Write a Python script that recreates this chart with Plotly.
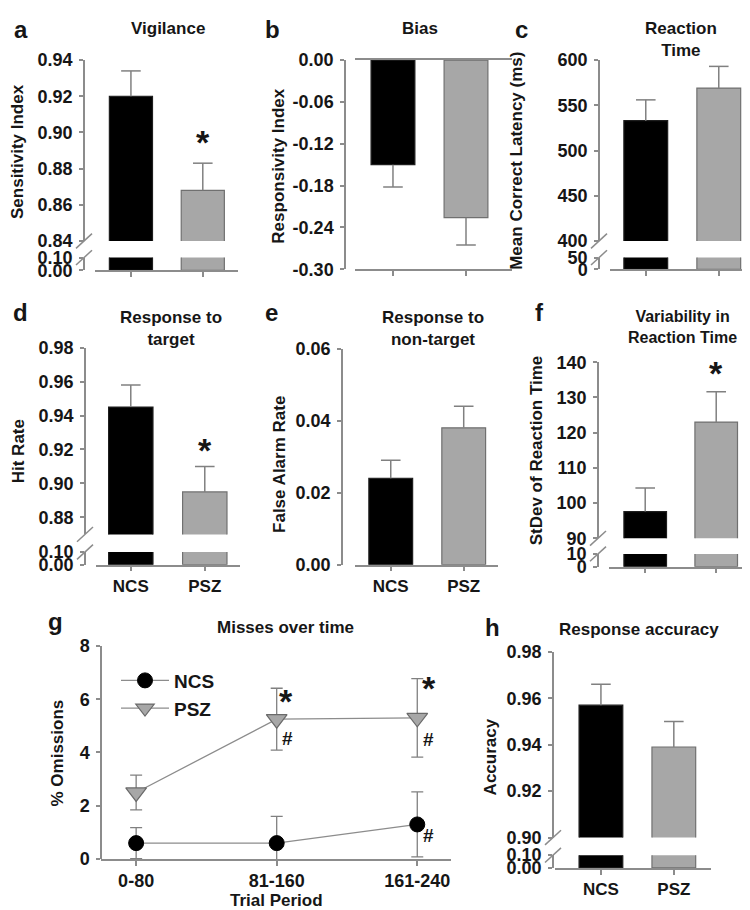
import plotly.graph_objects as go

W, H = 750, 910

# ---------------- data ----------------
groups = ["NCS", "PSZ"]
vigilance_mean = [0.920, 0.868]
vigilance_sem = [0.014, 0.015]
bias_mean = [-0.150, -0.226]
bias_sem = [0.032, 0.039]
rt_mean = [533, 569]
rt_sem = [23, 24]
hit_mean = [0.945, 0.895]
hit_sem = [0.013, 0.015]
fa_mean = [0.024, 0.038]
fa_sem = [0.005, 0.006]
rtsd_mean = [97.6, 123.0]
rtsd_sem = [6.7, 8.6]
acc_mean = [0.957, 0.939]
acc_sem = [0.009, 0.011]
trial_periods = ["0-80", "81-160", "161-240"]
omis_ncs = [0.6, 0.6, 1.3]
omis_ncs_sem = [0.58, 1.0, 1.22]
omis_psz = [2.5, 5.25, 5.3]
omis_psz_sem = [0.65, 1.16, 1.47]

# tick values
vig_ticks = [0.84, 0.86, 0.88, 0.90, 0.92, 0.94]
bias_ticks = [0.00, -0.06, -0.12, -0.18, -0.24, -0.30]
rt_ticks = [400, 450, 500, 550, 600]
hit_ticks = [0.88, 0.90, 0.92, 0.94, 0.96, 0.98]
fa_ticks = [0.00, 0.02, 0.04, 0.06]
rtsd_ticks = [90, 100, 110, 120, 130, 140]
acc_ticks = [0.90, 0.92, 0.94, 0.96, 0.98]
omis_ticks = [0, 2, 4, 6, 8]
low_ticks_frac = [0.00, 0.10]
low_ticks_rt = [0, 50]
low_ticks_sd = [0, 10]

# ---------------- style ----------------
FONT = "Liberation Sans, Arial, Helvetica, sans-serif"
TXT = "#161616"
AXC = "#8c8c8c"
ERRC = "#808080"
FILL = ["#000000", "#a7a7a7"]
EDGE = ["#1e1e1e", "#707070"]
YTICKSZ = 18
XTICKSZ = 17
STAR = 34

fig = go.Figure()
layout = dict(width=W, height=H, margin=dict(l=0, r=0, t=0, b=0),
              paper_bgcolor="white", plot_bgcolor="rgba(0,0,0,0)",
              annotations=[], shapes=[])


def X(p):
    return p / W


def Y(p):
    return 1 - p / H


def bold(size):
    return dict(family=FONT, size=size, color=TXT, weight="bold")


counter = [0]


def axis_pair(xdom, ydom, xrange, yrange, ypos, yticks, yfmt,
              show_x=True, xticktext=None, mirror=False, nx=2, xtsize=XTICKSZ):
    counter[0] += 1
    n = counter[0]
    sfx = "" if n == 1 else str(n)
    xid, yid = "x" + sfx, "y" + sfx
    layout["xaxis" + sfx] = dict(
        domain=[X(xdom[0]), X(xdom[1])], range=xrange, anchor=yid,
        showline=show_x, linecolor=AXC, linewidth=1.5, mirror=mirror,
        ticks="outside" if show_x else "", ticklen=5, tickwidth=1.5, tickcolor=AXC,
        tickvals=list(range(nx)) if show_x else [],
        ticktext=xticktext if xticktext else [""] * nx,
        showticklabels=bool(show_x and xticktext),
        tickfont=bold(xtsize),
        showgrid=False, zeroline=False, fixedrange=True)
    layout["yaxis" + sfx] = dict(
        domain=[Y(ydom[1]), Y(ydom[0])], range=yrange, anchor="free", position=X(ypos),
        showline=True, linecolor=AXC, linewidth=1.5,
        ticks="outside", ticklen=4, tickwidth=1.5, tickcolor=AXC,
        tickvals=yticks, ticktext=[yfmt.format(v) for v in yticks],
        tickfont=bold(YTICKSZ), ticklabelstandoff=3,
        showgrid=False, zeroline=False, fixedrange=True)
    return xid, yid


def bars(means, xid, yid):
    fig.add_bar(x=[0, 1], y=means, width=0.6,
                marker=dict(color=FILL, line=dict(color=EDGE, width=1.2)),
                xaxis=xid, yaxis=yid, showlegend=False, hoverinfo="skip")


def whiskers(means, sems, xid, yid, sign=1):
    wx, wy, cx, cy = [], [], [], []
    for i, (m, s) in enumerate(zip(means, sems)):
        wx += [i, i, None]
        wy += [m, m + sign * s, None]
        cx.append(i)
        cy.append(m + sign * s)
    fig.add_scatter(x=wx, y=wy, mode="lines", line=dict(color=ERRC, width=1.5),
                    xaxis=xid, yaxis=yid, showlegend=False, hoverinfo="skip")
    fig.add_scatter(x=cx, y=cy, mode="markers",
                    marker=dict(symbol="line-ew", size=14, line=dict(color=ERRC, width=1.5)),
                    xaxis=xid, yaxis=yid, showlegend=False, hoverinfo="skip")


def break_marks(ypos, yc_up, yc_lo):
    for yc in (yc_up, yc_lo):
        layout["shapes"].append(dict(type="line", xref="paper", yref="paper",
                                     x0=X(ypos - 8), y0=Y(yc + 7.5), x1=X(ypos + 8), y1=Y(yc - 7.5),
                                     line=dict(color=AXC, width=1.5)))


def text(x, y, t, size, xanchor="center", angle=0):
    layout["annotations"].append(dict(x=X(x), y=Y(y), xref="paper", yref="paper", text=t,
                                      showarrow=False, font=bold(size), xanchor=xanchor,
                                      yanchor="middle", textangle=angle))


def mark(t, xid, yid, x, y, size, xshift=0, yshift=0):
    layout["annotations"].append(dict(x=x, y=y, xref=xid, yref=yid, text=t, showarrow=False,
                                      font=bold(size), xanchor="center", yanchor="middle",
                                      xshift=xshift, yshift=yshift))


def broken_panel(means, sems, xdom, xrange, ypos, up_dom, up_range, up_ticks, lo_dom, lo_range,
                 lo_ticks, fmt, xticktext=None):
    xu, yu = axis_pair(xdom, up_dom, xrange, up_range, ypos, up_ticks, fmt, show_x=False)
    xl, yl = axis_pair(xdom, lo_dom, xrange, lo_range, ypos, lo_ticks, fmt, show_x=True,
                       xticktext=xticktext)
    bars(means, xu, yu)
    bars(means, xl, yl)
    whiskers(means, sems, xu, yu)
    break_marks(ypos, up_dom[1], lo_dom[0])
    return xu, yu


# ---------------- panel a ----------------
xa, ya = broken_panel(vigilance_mean, vigilance_sem, [87, 230], [-0.5, 1.49], 76,
                      [43, 228], [0.84, 0.94], vig_ticks, [245, 258], [0, 0.1], low_ticks_frac,
                      "{:.2f}")
mark("*", xa, ya, 1, vigilance_mean[1] + vigilance_sem[1], STAR, yshift=21)

# ---------------- panel b ----------------
xb, yb = axis_pair([347, 504], [43, 257], [-0.52, 1.63], [-0.30, 0.0], 337, bias_ticks, "{:.2f}",
                   show_x=True, mirror=True)
bars(bias_mean, xb, yb)
whiskers(bias_mean, bias_sem, xb, yb, sign=-1)

# ---------------- panel c ----------------
broken_panel(rt_mean, rt_sem, [602, 748], [-0.49, 1.51], 591,
             [43, 228], [400, 600], rt_ticks, [245, 257], [0, 50], low_ticks_rt, "{:g}")

# ---------------- panel d ----------------
xd, yd = broken_panel(hit_mean, hit_sem, [88, 232], [-0.47, 1.476], 77,
                      [337, 528], [0.87, 0.98], hit_ticks, [546, 559], [0, 0.1], low_ticks_frac,
                      "{:.2f}", xticktext=groups)
mark("*", xd, yd, 1, hit_mean[1] + hit_sem[1], STAR, yshift=16)

# ---------------- panel e ----------------
xe, ye = axis_pair([347, 490], [338, 559], [-0.49, 1.47], [0, 0.06], 334, fa_ticks, "{:.2f}",
                   show_x=True, xticktext=groups)
bars(fa_mean, xe, ye)
whiskers(fa_mean, fa_sem, xe, ye)

# ---------------- panel f ----------------
xf, yf = broken_panel(rtsd_mean, rtsd_sem, [601, 743], [-0.51, 1.49], 590,
                      [352, 532], [90, 140], rtsd_ticks, [548, 561], [0, 10], low_ticks_sd, "{:g}")
mark("*", xf, yf, 1, rtsd_mean[1] + rtsd_sem[1], STAR, yshift=19)

# ---------------- panel g ----------------
xg, yg = axis_pair([93, 443], [642, 860], [-0.25, 2.24], [0, 8], 93, omis_ticks, "{:g}",
                   show_x=True, xticktext=trial_periods, nx=3, xtsize=18)
fig.add_scatter(x=[0, 1, 2], y=omis_ncs, name="NCS", mode="lines+markers",
                error_y=dict(type="data", array=omis_ncs_sem, color=ERRC, thickness=1.3, width=6),
                line=dict(color="#8c8c8c", width=1.3),
                marker=dict(symbol="circle", size=15, color="#000000", line=dict(color="#000000", width=1)),
                xaxis=xg, yaxis=yg, hoverinfo="skip")
fig.add_scatter(x=[0, 1, 2], y=omis_psz, name="PSZ", mode="lines+markers",
                error_y=dict(type="data", array=omis_psz_sem, color=ERRC, thickness=1.3, width=6),
                line=dict(color="#8c8c8c", width=1.3),
                marker=dict(symbol="triangle-down", size=18, color="#a7a7a7",
                            line=dict(color="#6a6a6a", width=1.2)),
                xaxis=xg, yaxis=yg, hoverinfo="skip")
mark("*", xg, yg, 1, omis_psz[1], STAR, xshift=9, yshift=18)
mark("#", xg, yg, 1, omis_psz[1], 19, xshift=11, yshift=-19)
mark("*", xg, yg, 2, omis_psz[2], STAR, xshift=12, yshift=30)
mark("#", xg, yg, 2, omis_psz[2], 19, xshift=11, yshift=-22)
mark("#", xg, yg, 2, omis_ncs[2], 19, xshift=11, yshift=-11)

# ---------------- panel h ----------------
broken_panel(acc_mean, acc_sem, [547, 703], [-0.63, 1.51], 545,
             [648, 838], [0.90, 0.98], acc_ticks, [856, 869], [0, 0.1], low_ticks_frac,
             "{:.2f}", xticktext=groups)

# ---------------- texts ----------------
for lx, ly, letter in [(4, 12, "a"), (255, 12, "b"), (505, 12, "c"), (3, 301, "d"),
                       (255, 301, "e"), (525, 301, "f"), (38, 617, "g"), (475, 623, "h")]:
    text(lx, ly, letter, 24, xanchor="left")

for tx, ty, t, sz in [(160, 11, "Vigilance", 17), (412, 11, "Bias", 17),
                      (673, 22, "Reaction<br>Time", 17),
                      (163, 317, "Response to<br>target", 17),
                      (425, 317, "Response to<br>non-target", 17),
                      (674, 316, "Variability in<br>Reaction Time", 16),
                      (277, 623, "Misses over time", 17),
                      (631, 625, "Response accuracy", 17)]:
    text(tx, ty, t, sz)

for tx, ty, t in [(10, 137, "Sensitivity Index"), (271, 152, "Responsivity Index"),
                  (509, 146, "Mean Correct Latency (ms)"), (10, 443, "Hit Rate"),
                  (272, 457, "False Alarm Rate"), (528, 442, "StDev of Reaction Time"),
                  (49, 751, "% Omissions"), (482, 756, "Accuracy")]:
    text(tx, ty, t, 17, angle=-90)

text(268, 902, "Trial Period", 17)

layout["legend"] = dict(x=X(108), y=Y(658), xanchor="left", yanchor="top",
                        font=bold(19), bgcolor="rgba(0,0,0,0)", itemwidth=48,
                        tracegroupgap=0)
layout["showlegend"] = True

fig.update_layout(**layout)
fig.write_html("out.html")
